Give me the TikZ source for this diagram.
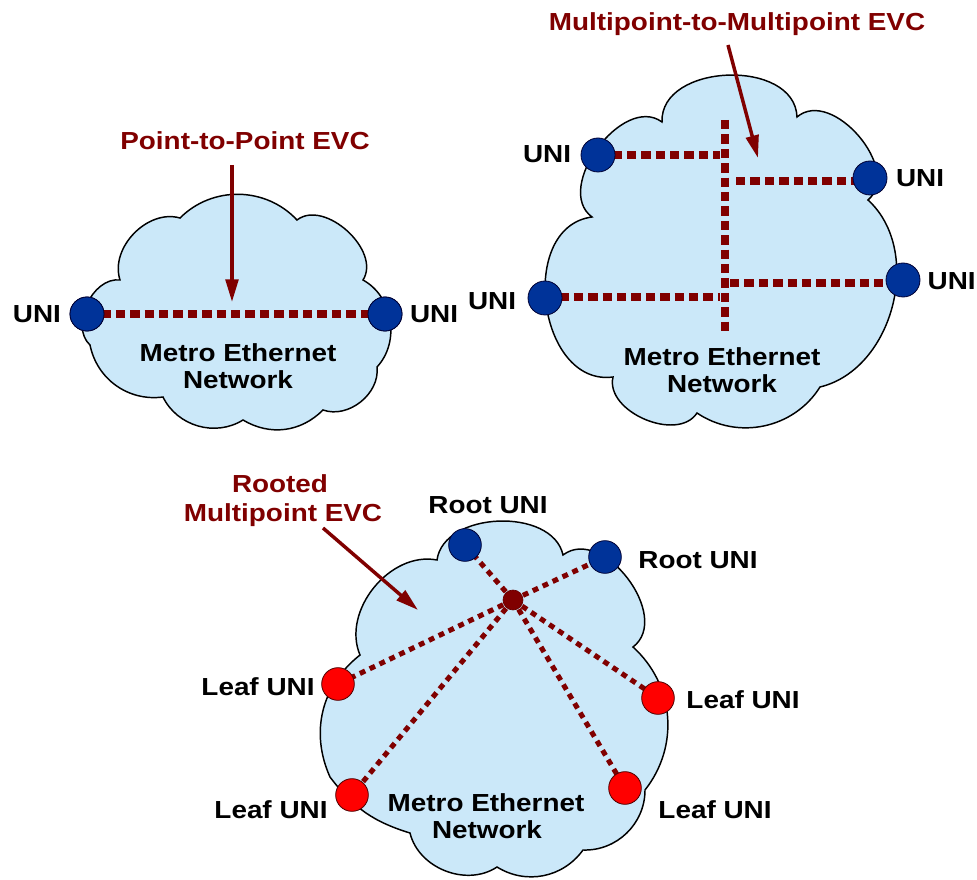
\documentclass[tikz,border=0pt]{standalone}
\usepackage{fontspec}
\setmainfont{Liberation Sans}[FakeStretch=1.13]
\usetikzlibrary{arrows.meta}

\definecolor{evcred}{RGB}{128,0,0}
\definecolor{uniblue}{RGB}{0,51,153}
\definecolor{cloudblue}{RGB}{203,232,249}
\definecolor{leafred}{RGB}{255,0,0}

\tikzset{
  cloudshape/.style={draw=black, line width=1.1pt, fill=cloudblue},
  evcline/.style={draw=evcred, line width=6pt, dash pattern=on 7pt off 3.8pt},
  evcthin/.style={draw=evcred, line width=3.8pt, dash pattern=on 4.4pt off 3.8pt},
  evcarrow/.style={draw=evcred, line width=2.6pt, -{Triangle[length=17pt,width=9.5pt]}},
  unidot/.style={circle, fill=uniblue, draw=black!80!blue, line width=0.6pt, minimum size=25.5pt, inner sep=0pt},
  leafdot/.style={circle, fill=leafred, draw=black!70!red, line width=0.6pt, minimum size=24.5pt, inner sep=0pt},
  hubdot/.style={circle, fill=evcred, draw=black!60!red, line width=0.5pt, minimum size=15pt, inner sep=0pt},
  lab/.style={font=\bfseries\fontsize{18.5}{22}\selectfont, inner sep=0pt, anchor=base},
  evclab/.style={lab, text=evcred}
}

\begin{document}
\begin{tikzpicture}[x=0.75pt, y=-0.75pt]
\useasboundingbox (0,0) rectangle (977,880);

% ---------- clouds ----------
\path[cloudshape] (120,280) to[bend left=62] (180,218) to[bend left=46] (297,220)
  to[bend left=80] (363,280) to[bend left=52] (377,367) to[bend left=58] (323,410)
  to[bend left=38] (243,420) to[bend left=48] (163,397) to[bend left=43] (90,345)
  to[bend left=72] (120,280) -- cycle;

\path[cloudshape] (662,122) to[bend left=90, looseness=1.12] (797,117)
  to[bend left=90, looseness=1.08] (868,200) to[bend left=62] (820,387)
  to[bend left=46] (697,413) to[bend left=80] (613,377)
  to[bend left=90, looseness=1.2] (592,217) to[bend left=90, looseness=1.05] (662,122) -- cycle;

\path[cloudshape] (437,560) to[bend left=80] (563,555)
  to[bend left=90, looseness=1.1] (633,647) to[bend left=43] (645,790)
  to[bend left=46] (583,850) to[bend left=43] (497,867) to[bend left=55] (410,833)
  to[bend left=18] (330,777) to[bend left=38] (360,655) to[bend left=62] (437,560) -- cycle;

% ---------- point-to-point ----------
\node[unidot] (u1) at (87,314) {};
\node[unidot] (u2) at (385,314) {};
\draw[evcline] (u1.center) -- (u2.center);
\node[unidot] at (u1) {};
\node[unidot] at (u2) {};

% ---------- multipoint-to-multipoint ----------
\coordinate (m1) at (598,155);
\coordinate (m2) at (870,181);
\coordinate (m3) at (545,297);
\coordinate (m4) at (903,283);
\coordinate (vtop) at (725,120);
\coordinate (vbot) at (725,332);
\coordinate (h1e) at (720,155);
\coordinate (h2s) at (736,181);
\coordinate (h3s) at (730,283);
\coordinate (h4e) at (720,297);
\draw[evcline] (vtop) -- (vbot);
\draw[evcline] (m1) -- (h1e);
\draw[evcline] (h2s) -- (m2);
\draw[evcline] (h3s) -- (m4);
\draw[evcline] (m3) -- (h4e);
\node[unidot] (mu1) at (598,155) {};
\node[unidot] (mu2) at (870,178) {};
\node[unidot] (mu3) at (545,298) {};
\node[unidot] (mu4) at (903,280) {};

% ---------- rooted multipoint ----------
\coordinate (hub) at (513,600);
\coordinate (r1) at (465,545);
\coordinate (r2) at (605,557);
\coordinate (l1) at (338,684);
\coordinate (l2) at (658,698);
\coordinate (l3) at (352,795);
\coordinate (l4) at (625,788);
\foreach \e in {r1,r2,l1,l2,l3,l4}
  \draw[evcthin] (hub) -- (\e);
\node[unidot, minimum size=24.5pt] (root1) at (r1) {};
\node[unidot, minimum size=24.5pt] (root2) at (r2) {};
\node[leafdot] (leaf1) at (l1) {};
\node[leafdot] (leaf2) at (l2) {};
\node[leafdot] (leaf3) at (l3) {};
\node[leafdot] (leaf4) at (l4) {};
\node[hubdot] (hubdot) at (hub) {};

% ---------- pointer arrows ----------
\coordinate (a1s) at (232,165);
\coordinate (a1e) at (232,302);
\coordinate (a2s) at (728,45);
\coordinate (a2e) at (758,158);
\coordinate (a3s) at (323,528);
\coordinate (a3e) at (418,610);
\draw[evcarrow] (a1s) -- (a1e);
\draw[evcarrow] (a2s) -- (a2e);
\draw[evcarrow] (a3s) -- (a3e);

% ---------- labels ----------
\node[evclab] (tp2p) at (245,150) {Point-to-Point EVC};
\node[lab] (tu1) at (37,323) {UNI};
\node[lab] (tu2) at (434,323) {UNI};
\node[lab] (tmen1) at (238,361) {Metro Ethernet};
\node[lab] (tnet1) at (238,388) {Network};

\node[evclab] (tm2m) at (737,31) {Multipoint-to-Multipoint EVC};
\node[lab] (tu3) at (547,163) {UNI};
\node[lab] (tu4) at (920,187) {UNI};
\node[lab] (tu5) at (492,310) {UNI};
\node[lab, anchor=base east] (tu6) at (976,290) {UNI};
\node[lab] (tmen2) at (722,365) {Metro Ethernet};
\node[lab] (tnet2) at (722,392) {Network};

\node[evclab] (trooted) at (280,492) {Rooted};
\node[evclab] (trmp) at (283,521) {Multipoint EVC};
\node[lab] (troot1) at (488,513) {Root UNI};
\node[lab] (troot2) at (698,568) {Root UNI};
\node[lab] (tleaf1) at (258,695) {Leaf UNI};
\node[lab] (tleaf2) at (743,708) {Leaf UNI};
\node[lab] (tleaf3) at (271,818) {Leaf UNI};
\node[lab] (tleaf4) at (715,818) {Leaf UNI};
\node[lab] (tmen3) at (486,811) {Metro Ethernet};
\node[lab] (tnet3) at (487,838) {Network};
\end{tikzpicture}
\end{document}
